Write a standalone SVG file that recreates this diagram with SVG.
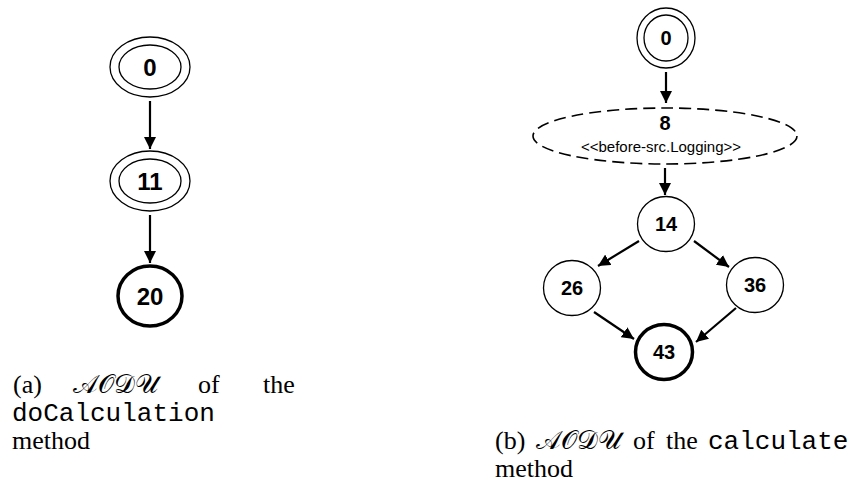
<svg xmlns="http://www.w3.org/2000/svg" width="854" height="494" viewBox="0 0 854 494">
  <style>
    .st { fill: #fff; stroke: #000; stroke-width: 1.3; }
    .fin { fill: #fff; stroke: #000; stroke-width: 3.5; }
    .adv { fill: #fff; stroke: #000; stroke-width: 1.6; stroke-dasharray: 12 6; }
    .lbl { font-family: "Liberation Sans", Arial, sans-serif; font-weight: bold; text-anchor: middle; dominant-baseline: central; fill: #000; }
    .big { font-size: 24px; }
    .mid { font-size: 20px; }
    .stereo { font-family: "Liberation Sans", Arial, sans-serif; font-size: 15px; text-anchor: middle; fill: #000; }
    .edge { stroke: #000; stroke-width: 2.2; fill: none; marker-end: url(#head); }
    .cap { font-family: "Liberation Serif", "Times New Roman", serif; font-size: 26px; fill: #000; }
    .cal { font-family: "DejaVu Serif", "Liberation Serif", serif; }
    .tt { font-family: "Liberation Mono", "Courier New", monospace; font-size: 26px; fill: #000; }
  </style>
  <defs>
    <marker id="head" viewBox="0 0 10 10" refX="10" refY="5" markerWidth="12" markerHeight="12" markerUnits="userSpaceOnUse" orient="auto">
      <path d="M0,0 L10,5 L0,10 Z" fill="#000"/>
    </marker>
  </defs>

  <!-- (a) doCalculation -->
  <g id="a-edges">
    <line class="edge" x1="150" y1="101" x2="150" y2="149"/>
    <line class="edge" x1="150" y1="215" x2="150" y2="263"/>
  </g>
  <g id="a-n0">
    <ellipse class="st" cx="150" cy="67" rx="40" ry="30"/>
    <ellipse class="st" cx="150" cy="67" rx="31" ry="22"/>
    <text class="lbl big" x="150" y="67">0</text>
  </g>
  <g id="a-n11">
    <ellipse class="st" cx="150" cy="181" rx="40" ry="30"/>
    <ellipse class="st" cx="150" cy="181" rx="31" ry="22"/>
    <text class="lbl big" x="150" y="181">11</text>
  </g>
  <g id="a-n20">
    <ellipse class="fin" cx="150" cy="296" rx="32" ry="30"/>
    <text class="lbl big" x="150" y="296">20</text>
  </g>

  <!-- (b) calculate -->
  <g id="b-edges">
    <line class="edge" x1="666" y1="72" x2="666" y2="103"/>
    <line class="edge" x1="665" y1="168" x2="665" y2="195"/>
    <line class="edge" x1="639" y1="241" x2="598" y2="266"/>
    <line class="edge" x1="694" y1="241" x2="729" y2="267"/>
    <line class="edge" x1="594" y1="312" x2="634" y2="339"/>
    <line class="edge" x1="736" y1="308" x2="696" y2="342"/>
  </g>
  <g id="b-n0">
    <ellipse class="st" cx="666" cy="38" rx="29" ry="30"/>
    <ellipse class="st" cx="666" cy="38" rx="22" ry="23"/>
    <text class="lbl mid" x="666" y="38">0</text>
  </g>
  <g id="b-n8">
    <ellipse class="adv" cx="665" cy="136" rx="132" ry="28"/>
    <text class="lbl mid" x="665" y="123">8</text>
    <text class="stereo" x="661" y="152">&lt;&lt;before-src.Logging&gt;&gt;</text>
  </g>
  <g id="b-n14">
    <ellipse class="st" cx="666" cy="224" rx="28.5" ry="27.5"/>
    <text class="lbl mid" x="666" y="224">14</text>
  </g>
  <g id="b-n26">
    <ellipse class="st" cx="572" cy="288" rx="28.5" ry="27.5"/>
    <text class="lbl mid" x="572" y="288">26</text>
  </g>
  <g id="b-n36">
    <ellipse class="st" cx="755" cy="285" rx="28.5" ry="27.5"/>
    <text class="lbl mid" x="755" y="285">36</text>
  </g>
  <g id="b-n43">
    <ellipse class="fin" cx="664" cy="352" rx="28.5" ry="27.5"/>
    <text class="lbl mid" x="664" y="352">43</text>
  </g>

  <!-- captions -->
  <g id="caption-a">
    <text class="cap" x="13" y="393">(a)</text>
    <text class="cap cal" x="73" y="393">𝒜𝒪𝒟𝒰</text>
    <text class="cap" x="198" y="393">of</text>
    <text class="cap" x="263" y="393">the</text>
    <text class="tt" x="12" y="421">doCalculation</text>
    <text class="cap" x="12" y="449">method</text>
  </g>
  <g id="caption-b">
    <text class="cap" x="495" y="449">(b)</text>
    <text class="cap cal" x="536" y="449">𝒜𝒪𝒟𝒰</text>
    <text class="cap" x="633" y="449">of</text>
    <text class="cap" x="666" y="449">the</text>
    <text class="tt" x="708" y="449">calculate</text>
    <text class="cap" x="495" y="477">method</text>
  </g>
</svg>
